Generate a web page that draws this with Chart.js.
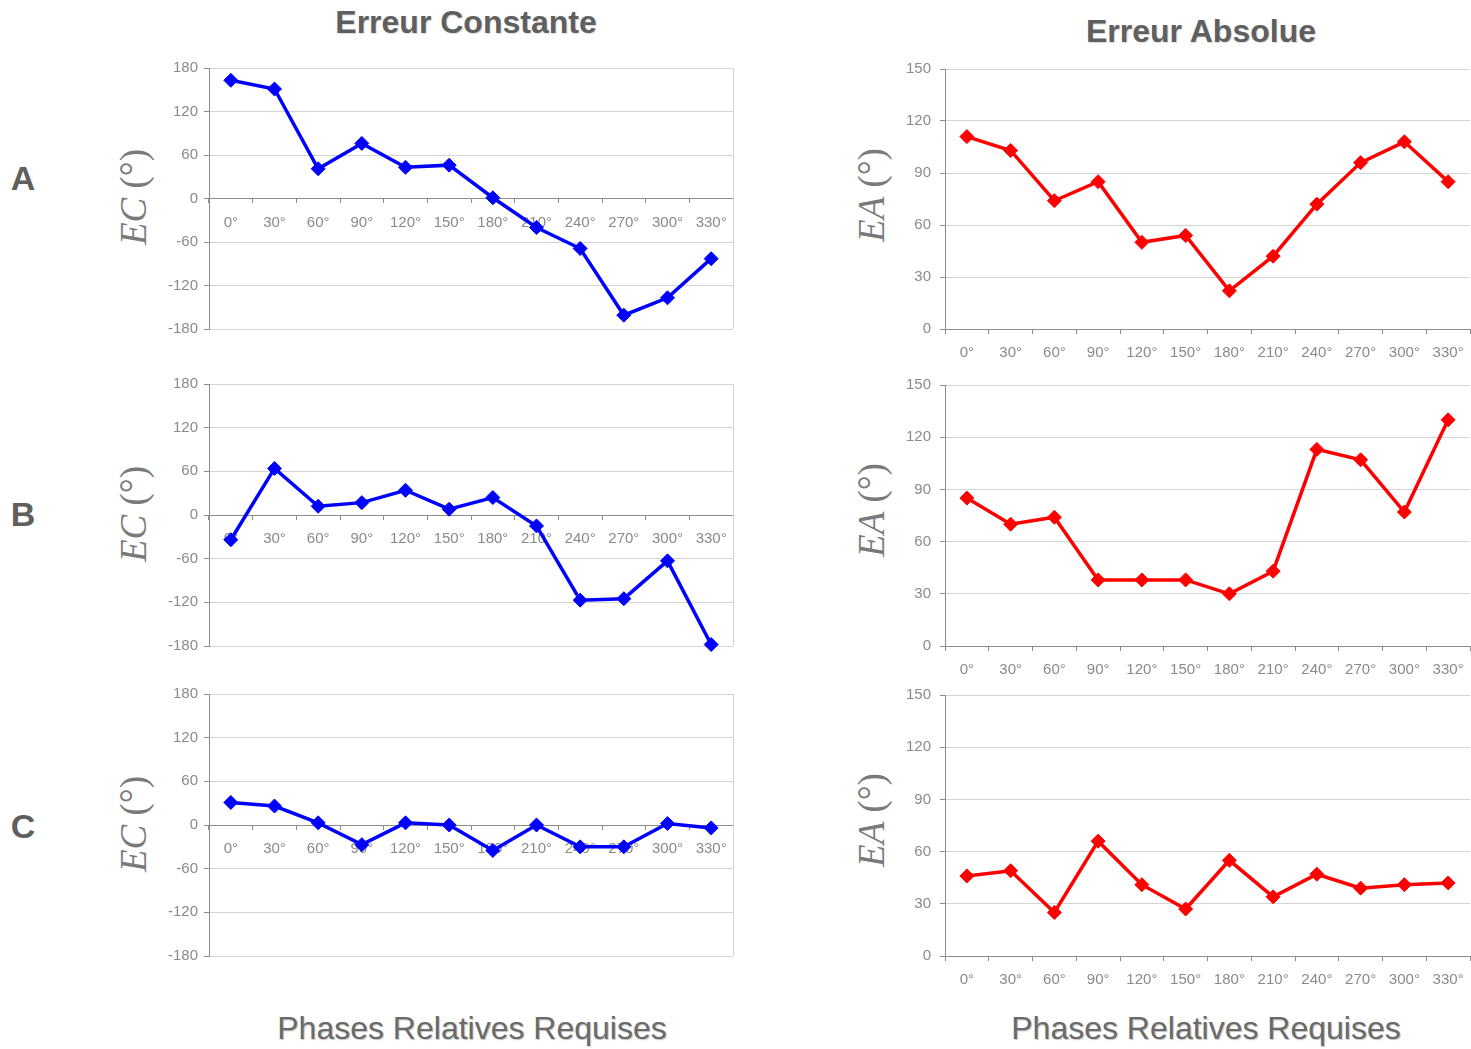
<!DOCTYPE html>
<html>
<head>
<meta charset="utf-8">
<script src="https://cdn.jsdelivr.net/npm/chart.js@4.4.1/dist/chart.umd.min.js"></script>
<style>
  body { margin: 0; background: #fff; }
  #page { position: relative; width: 1471px; height: 1049px; overflow: hidden; font-family: "Liberation Sans", Arial, sans-serif; }
  canvas { position: absolute; }
  .lbl { position: absolute; white-space: nowrap; transform: translate(-50%, -50%); color: #5f5f5f; }
  .coltitle { font-size: 32px; font-weight: bold; text-shadow: 1px 1px 1px rgba(0,0,0,0.15); }
  .row { font-size: 34px; font-weight: bold; }
  .foot { font-size: 32px; color: #6a6a6a; text-shadow: 1px 1px 1px rgba(0,0,0,0.25); }
  .ytitle { font-family: "Liberation Serif", "Times New Roman", serif; font-size: 37px; color: #7a7a7a;
            transform: translate(-50%, -50%) rotate(-90deg); }
</style>
</head>
<body>
<div id="page">
  <div class="lbl coltitle" style="left:466px; top:22px;">Erreur Constante</div>
  <div class="lbl coltitle" style="left:1201px; top:31px;">Erreur Absolue</div>

  <div class="lbl row" style="left:23px; top:178px;">A</div>
  <div class="lbl row" style="left:23px; top:514px;">B</div>
  <div class="lbl row" style="left:23px; top:826px;">C</div>

  <div class="lbl ytitle" style="left:133px; top:197px;"><i>EC</i> (°)</div>
  <div class="lbl ytitle" style="left:133px; top:514px;"><i>EC</i> (°)</div>
  <div class="lbl ytitle" style="left:133px; top:824px;"><i>EC</i> (°)</div>
  <div class="lbl ytitle" style="left:871px; top:195px;"><i>EA</i> (°)</div>
  <div class="lbl ytitle" style="left:871px; top:510px;"><i>EA</i> (°)</div>
  <div class="lbl ytitle" style="left:871px; top:820px;"><i>EA</i> (°)</div>

  <div class="lbl foot" style="left:472px; top:1028px;">Phases Relatives Requises</div>
  <div class="lbl foot" style="left:1206px; top:1028px;">Phases Relatives Requises</div>

  <canvas id="ecA" width="595" height="291" style="left:150px; top:53px;"></canvas>
  <canvas id="ecB" width="595" height="292" style="left:150px; top:369px;"></canvas>
  <canvas id="ecC" width="595" height="292" style="left:150px; top:679px;"></canvas>
  <canvas id="eaA" width="598" height="313" style="left:880px; top:51px;"></canvas>
  <canvas id="eaB" width="598" height="314" style="left:880px; top:367px;"></canvas>
  <canvas id="eaC" width="598" height="314" style="left:880px; top:677px;"></canvas>
</div>

<script>
// Phase categories
const phases = ['0°', '30°', '60°', '90°', '120°', '150°', '180°', '210°', '240°', '270°', '300°', '330°'];

// Erreur constante (EC)
const ecA = [163, 151, 41, 76, 43, 46, 1, -40, -69, -161, -137, -83];
const ecB = [-34, 64, 12, 17, 34, 8, 24, -15, -117, -115, -63, -178];
const ecC = [31, 26, 3, -27, 3, 0, -35, 0, -30, -30, 2, -4];

// Erreur absolue (EA)
const eaA = [111, 103, 74, 85, 50, 54, 22, 42, 72, 96, 108, 85];
const eaB = [85, 70, 74, 38, 38, 38, 30, 43, 113, 107, 77, 130];
const eaC = [46, 49, 25, 66, 41, 27, 55, 34, 47, 39, 41, 42];

// Tick settings
const ecTicks = { min: -180, max: 180, step: 60 };
const eaTicks = { min: 0, max: 150, step: 30 };

const tickFont = { family: 'Liberation Sans', size: 15 };
const tickColor = '#8a8a8a';
const axisColor = '#8c8c8c';
const gridColor = '#d4d4d4';

// light border on the right side of the plot area
const rightBorder = {
    id: 'rightBorder',
    afterDraw(chart, args, opts) {
        if (!opts.show) return;
        const a = chart.chartArea;
        const ctx = chart.ctx;
        ctx.save();
        ctx.strokeStyle = gridColor;
        ctx.lineWidth = 1;
        ctx.beginPath();
        ctx.moveTo(Math.round(a.right) + 0.5, a.top);
        ctx.lineTo(Math.round(a.right) + 0.5, a.bottom);
        ctx.stroke();
        ctx.restore();
    }
};

function makeChart(id, data, color, range, leftCol) {
    const ctx = document.getElementById(id);
    return new Chart(ctx, {
        type: 'line',
        data: {
            labels: phases,
            datasets: [{
                data: data,
                borderColor: color,
                backgroundColor: color,
                borderWidth: 3.5,
                pointStyle: 'rectRot',
                pointRadius: 7,
                pointHoverRadius: 7,
                pointBorderWidth: 1,
                tension: 0,
                clip: false
            }]
        },
        options: {
            responsive: false,
            animation: false,
            events: [],
            layout: {
                padding: leftCol
                    ? { top: 13, right: 12, bottom: 12, left: 0 }
                    : { top: 13, right: 1, bottom: 0, left: 0 }
            },
            plugins: {
                legend: { display: false },
                tooltip: { enabled: false },
                rightBorder: { show: leftCol }
            },
            scales: {
                x: {
                    position: leftCol ? { y: 0 } : 'bottom',
                    offset: true,
                    grid: {
                        offset: true,
                        drawOnChartArea: false,
                        drawTicks: true,
                        tickLength: leftCol ? 4 : 5,
                        tickColor: axisColor
                    },
                    border: { display: true, color: axisColor, width: 1 },
                    ticks: {
                        font: tickFont,
                        color: tickColor,
                        padding: leftCol ? 11 : 10,
                        maxRotation: 0,
                        autoSkip: false
                    },
                    afterFit(scale) {
                        if (!leftCol) scale.height = 35;
                    }
                },
                y: {
                    min: range.min,
                    max: range.max,
                    ticks: {
                        stepSize: range.step,
                        font: tickFont,
                        color: tickColor,
                        padding: leftCol ? 6 : 9
                    },
                    grid: {
                        color: gridColor,
                        drawTicks: true,
                        tickLength: 5,
                        tickColor: axisColor
                    },
                    border: { display: true, color: axisColor, width: 1 },
                    afterFit(scale) {
                        scale.width = leftCol ? 59 : 65;
                    }
                }
            }
        },
        plugins: [rightBorder]
    });
}

makeChart('ecA', ecA, '#0000ff', ecTicks, true);
makeChart('ecB', ecB, '#0000ff', ecTicks, true);
makeChart('ecC', ecC, '#0000ff', ecTicks, true);
makeChart('eaA', eaA, '#ff0000', eaTicks, false);
makeChart('eaB', eaB, '#ff0000', eaTicks, false);
makeChart('eaC', eaC, '#ff0000', eaTicks, false);
</script>
</body>
</html>
